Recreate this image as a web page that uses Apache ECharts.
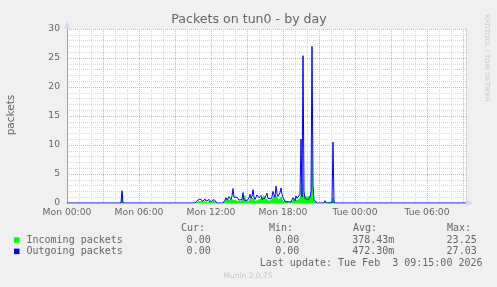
<!DOCTYPE html>
<html><head><meta charset="utf-8">
<script src="https://cdn.jsdelivr.net/npm/echarts@6/dist/echarts.min.js"></script>
<style>html,body{margin:0;padding:0;background:#f0f0f0;}#c{width:497px;height:287px;}</style>
</head><body><div id="c"></div>
<script>
// Sample times (5-minute samples)
const times = ['Mon 00:00','Mon 04:30','Mon 04:35','Mon 04:40','Mon 10:40','Mon 10:45','Mon 10:50','Mon 10:55','Mon 11:00','Mon 11:05','Mon 11:10','Mon 11:15','Mon 11:20','Mon 11:25','Mon 11:30','Mon 11:35','Mon 11:40','Mon 11:45','Mon 11:50','Mon 11:55','Mon 12:00','Mon 12:05','Mon 12:10','Mon 12:15','Mon 12:20','Mon 12:25','Mon 12:30','Mon 13:00','Mon 13:05','Mon 13:10','Mon 13:15','Mon 13:20','Mon 13:25','Mon 13:30','Mon 13:35','Mon 13:40','Mon 13:45','Mon 13:50','Mon 13:55','Mon 14:00','Mon 14:05','Mon 14:10','Mon 14:15','Mon 14:20','Mon 14:25','Mon 14:30','Mon 14:35','Mon 14:40','Mon 14:45','Mon 14:50','Mon 14:55','Mon 15:00','Mon 15:05','Mon 15:10','Mon 15:15','Mon 15:20','Mon 15:25','Mon 15:30','Mon 15:35','Mon 15:40','Mon 15:45','Mon 15:50','Mon 15:55','Mon 16:00','Mon 16:05','Mon 16:10','Mon 16:15','Mon 16:20','Mon 16:25','Mon 16:30','Mon 16:35','Mon 16:40','Mon 16:45','Mon 16:50','Mon 16:55','Mon 17:00','Mon 17:05','Mon 17:10','Mon 17:15','Mon 17:20','Mon 17:25','Mon 17:30','Mon 17:35','Mon 17:40','Mon 17:45','Mon 17:50','Mon 17:55','Mon 18:00','Mon 18:05','Mon 18:10','Mon 18:15','Mon 18:20','Mon 18:25','Mon 18:30','Mon 18:35','Mon 18:40','Mon 18:45','Mon 18:50','Mon 18:55','Mon 19:00','Mon 19:05','Mon 19:10','Mon 19:15','Mon 19:20','Mon 19:25','Mon 19:30','Mon 19:35','Mon 19:40','Mon 19:45','Mon 19:50','Mon 19:55','Mon 20:00','Mon 20:05','Mon 20:10','Mon 20:15','Mon 20:20','Mon 20:25','Mon 20:30','Mon 20:35','Mon 20:40','Mon 20:45','Mon 20:50','Mon 21:25','Mon 21:30','Mon 21:35','Mon 22:05','Mon 22:10','Mon 22:15','Mon 22:20','Tue 09:15'];
const outgoing = [0,0,2.1,0,0,0.2,0.4,0.5,0.4,0.7,0.5,0.8,0.3,0.4,0.7,0.3,0.3,0.4,0.6,0.8,0.2,0.3,0.5,0.6,0.7,0.3,0,0,0.3,0.5,0.9,0.5,0.8,1.1,0.8,0.6,1.2,2.5,1.0,0.8,1.2,1.0,0.8,0.5,0.3,0.4,0.6,1.8,0.5,0.7,0.7,0.4,0.3,0.9,1.5,0.8,1.2,2.3,1.0,0.6,0.9,1.4,1.1,0.9,1.0,1.3,0.6,0.5,0.3,0.9,1.3,1.7,0.8,0.6,0.5,0.7,1.1,2.0,1.4,1.0,2.9,1.6,1.1,1.2,1.8,2.6,1.5,0.9,0.6,0.3,0.4,0.6,0.2,0.3,0.1,0.2,0.5,0.9,0.7,0.4,1.2,0.8,0.5,0.8,1.5,11.0,1.0,25.4,2.0,0.8,0.9,1.0,0.5,0.7,1.0,2.0,27.0,3.0,0.6,0.5,0.5,0,0,0.4,0,0,10.5,0,0,0];
const incoming = [0,0,2.6,0,0,0.1,0.2,0.3,0.3,0.4,0.3,0.4,0.2,0.3,0.4,0.2,0.1,0.3,0.3,0.5,0.1,0.1,0.3,0.4,0.4,0.2,0,0,0.1,0.3,0.5,0.3,0.4,0.6,0.4,0.3,0.6,0.9,0.5,0.5,0.6,0.5,0.4,0.3,0.2,0.3,0.4,0.9,1.1,1.4,0.6,0.3,0.2,0.5,0.7,0.6,0.7,0.9,0.6,0.4,0.5,0.6,0.5,0.4,0.6,0.8,0.9,1.1,1.3,1.0,0.8,0.7,0.5,0.4,0.3,0.4,0.6,1.2,1.5,1.3,1.4,1.0,0.7,0.6,0.9,1.2,0.8,0.4,0.3,0.1,0.2,0.2,0.1,0.1,0.1,0.1,0.3,0.6,0.8,0.7,0.6,0.5,0.4,0.6,0.9,3.0,0.8,5.5,1.2,0.9,1.0,1.1,0.9,1.0,1.2,1.6,12.0,1.5,0.4,0.3,0.2,0,0,0.1,0,0.3,1.2,0.5,0,0];
const yTicks = [0,5,10,15,20,25,30];
const xTickLabels = ['Mon 00:00','Mon 06:00','Mon 12:00','Mon 18:00','Tue 00:00','Tue 06:00'];
const legendRows = [
  {name:'Incoming packets', color:'#00ff00', cur:'0.00', min:'0.00', avg:'378.43m', max:'23.25'},
  {name:'Outgoing packets', color:'#0000ff', cur:'0.00', min:'0.00', avg:'472.30m', max:'27.03'}
];

function toHours(t){
  const [d, hm] = t.split(' ');
  const [h, m] = hm.split(':').map(Number);
  return (d === 'Tue' ? 24 : 0) + h + m/60;
}
const xs = times.map(toHours);
const inData = xs.map((x,i)=>[x, incoming[i]]);
const outData = xs.map((x,i)=>[x, outgoing[i]]);

const FONT = 'DejaVu Sans';
const MONO = 'DejaVu Sans Mono';
const TXT = '#666666';
const AXIS = '#CFD6F8';
const MINOR = '#dadada';
const MAJOR = '#eaaaaa';
const XMAX = 33.25;

const chart = echarts.init(document.getElementById('c'), null, {renderer:'canvas'});
const base = {min:0, max:XMAX, type:'value', position:'bottom', axisTick:{show:false}, axisLabel:{show:false}, axisLine:{show:false}, splitLine:{show:false}};
const ybase = {min:0, max:30, type:'value', position:'left', axisTick:{show:false}, axisLabel:{show:false}, axisLine:{show:false}, splitLine:{show:false}};

const gfx = [
  {type:'text', x:249, y:19.5, style:{text:'Packets on tun0 - by day', fill:TXT, fontFamily:FONT, fontSize:12.6, align:'center', verticalAlign:'middle'}},
  {type:'text', x:11, y:115, rotation:Math.PI/2, style:{text:'packets', fill:TXT, fontFamily:FONT, fontSize:10.5, align:'center', verticalAlign:'middle'}},
  {type:'text', x:487, y:14, rotation:-Math.PI/2, style:{text:'RRDTOOL / TOBI OETIKER', fill:'#c8c8c8', fontFamily:FONT, fontSize:6.8, align:'left', verticalAlign:'middle'}},
  {type:'text', x:181, y:228.5, style:{text:'Cur:', fill:TXT, fontFamily:MONO, fontSize:10, align:'left', verticalAlign:'middle'}},
  {type:'text', x:269, y:228.5, style:{text:'Min:', fill:TXT, fontFamily:MONO, fontSize:10, align:'left', verticalAlign:'middle'}},
  {type:'text', x:353, y:228.5, style:{text:'Avg:', fill:TXT, fontFamily:MONO, fontSize:10, align:'left', verticalAlign:'middle'}},
  {type:'text', x:447, y:228.5, style:{text:'Max:', fill:TXT, fontFamily:MONO, fontSize:10, align:'left', verticalAlign:'middle'}},
  {type:'text', x:482.5, y:263.8, style:{text:'Last update: Tue Feb  3 09:15:00 2026', fill:TXT, fontFamily:MONO, fontSize:10, align:'right', verticalAlign:'middle'}},
  {type:'text', x:248, y:276.5, style:{text:'Munin 2.0.75', fill:'#c8c8c8', fontFamily:FONT, fontSize:7.5, align:'center', verticalAlign:'middle'}}
];
legendRows.forEach((r,i)=>{
  const y = 240 + i*11.3;
  gfx.push({type:'rect', shape:{x:14, y:y-2.7, width:5.5, height:5.5}, style:{fill:r.color}});
  gfx.push({type:'text', x:26.5, y:y, style:{text:r.name, fill:TXT, fontFamily:MONO, fontSize:10, align:'left', verticalAlign:'middle'}});
  [[r.cur,210.7],[r.min,299.3],[r.avg,394.3],[r.max,476.7]].forEach(([t,x])=>{
    gfx.push({type:'text', x:x, y:y, style:{text:t, fill:TXT, fontFamily:MONO, fontSize:10, align:'right', verticalAlign:'middle'}});
  });
});

chart.setOption({
  animation:false,
  backgroundColor:'#f0f0f0',
  grid:{left:67, top:29, width:399, height:174, show:true, backgroundColor:'#ffffff', borderWidth:0},
  xAxis:[
    Object.assign({}, base, {interval:1, splitLine:{show:true, lineStyle:{color:MINOR, type:[1,1], width:1}}}),
    Object.assign({}, base, {interval:3, splitLine:{show:true, lineStyle:{color:MAJOR, type:[1,1], width:1}}}),
    Object.assign({}, base, {interval:6, axisLine:{show:true, lineStyle:{color:AXIS, width:1}, symbol:['none','triangle'], symbolSize:[6,7], symbolOffset:[0,4]},
      axisLabel:{show:true, color:TXT, fontFamily:FONT, fontSize:9.2, margin:5, formatter:function(v){ const i = Math.round(v/6); return (Math.abs(v - i*6) < 1e-6 && xTickLabels[i]) ? xTickLabels[i] : ''; }}})
  ],
  yAxis:[
    Object.assign({}, ybase, {interval:1, splitLine:{show:true, lineStyle:{color:MINOR, type:[1,1], width:1}}}),
    Object.assign({}, ybase, {interval:5, splitLine:{show:true, lineStyle:{color:MAJOR, type:[1,1], width:1}},
      axisLine:{show:true, lineStyle:{color:AXIS, width:1}, symbol:['none','triangle'], symbolSize:[6,7], symbolOffset:[0,4]},
      axisLabel:{show:true, color:TXT, fontFamily:FONT, fontSize:9.2, margin:7, formatter:function(v){ return yTicks.indexOf(v) >= 0 ? String(v) : ''; }}}),
    Object.assign({}, ybase, {position:'right', axisLine:{show:true, lineStyle:{color:'#a0a0a0', width:1}}})
  ],
  series:[
    {name:'Incoming packets', type:'line', data:inData, xAxisIndex:0, yAxisIndex:0, showSymbol:false, symbol:'none', lineStyle:{width:0, color:'#00ff00'}, areaStyle:{color:'#00ff00', opacity:1}, itemStyle:{color:'#00ff00'}, z:3},
    {name:'Outgoing packets', type:'line', data:outData, xAxisIndex:0, yAxisIndex:0, showSymbol:false, symbol:'none', lineStyle:{width:1, color:'#0000ff'}, itemStyle:{color:'#0000ff'}, z:4}
  ],
  graphic:gfx
});
</script></body></html>
